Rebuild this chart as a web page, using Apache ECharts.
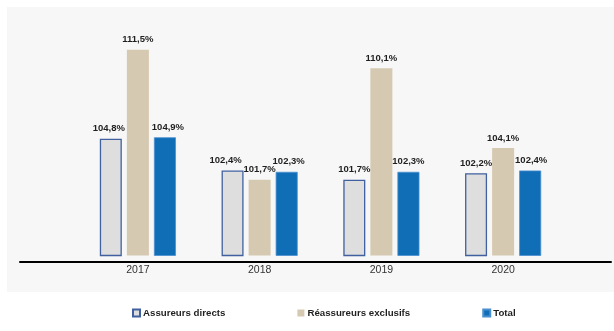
<!DOCTYPE html>
<html>
<head>
<meta charset="utf-8">
<script src="https://cdn.jsdelivr.net/npm/echarts@6/dist/echarts.min.js"></script>
<style>
  html, body { margin: 0; padding: 0; background: #ffffff; }
  #chart { width: 614px; height: 331px; }
</style>
</head>
<body>
<div id="chart"></div>
<script>
// Ratios combinés par année (en %)
const years = ['2017', '2018', '2019', '2020'];
const assureursDirects = [104.8, 102.4, 101.7, 102.2];
const reassureursExclusifs = [111.5, 101.7, 110.1, 104.1];
const total = [104.9, 102.3, 102.3, 102.4];
const seriesNames = ['Assureurs directs', 'Réassureurs exclusifs', 'Total'];

const fmt = v => v.toFixed(1).replace('.', ',') + '%';
const FONT = '"Liberation Sans", Arial, sans-serif';

const labelStyle = {
  show: true,
  position: 'top',
  distance: 5,
  fontFamily: FONT,
  fontSize: 9.5,
  fontWeight: 'bold',
  color: '#1f1f1f',
  formatter: p => fmt(p.value)
};

// small horizontal nudges so neighbouring labels don't collide
function withOffsets(values, offsets) {
  return values.map((v, i) => offsets[i]
    ? { value: v, label: { offset: offsets[i] } }
    : v);
}

const chart = echarts.init(document.getElementById('chart'), null, { renderer: 'canvas' });

chart.setOption({
  animation: false,
  backgroundColor: '#ffffff',
  graphic: [{
    type: 'rect',
    z: -10,
    shape: { x: 7, y: 7, width: 607, height: 285 },
    style: { fill: '#f7f7f7' }
  }],
  legend: {
    left: 127,
    top: 303,
    itemWidth: 7,
    itemHeight: 7,
    itemGap: 72,
    icon: 'rect',
    textStyle: { fontFamily: FONT, fontSize: 9.7, fontWeight: 'bold', color: '#1f1f1f', padding: [0, 0, 0, -2] },
    data: seriesNames
  },
  grid: [
    { left: 77, right: 50, top: 43, bottom: 75.5 },
    { left: 20, right: 3, top: 200, bottom: 69 }
  ],
  xAxis: [
    {
      type: 'category',
      gridIndex: 0,
      data: years,
      axisLine: { show: false },
      axisTick: { show: false },
      axisLabel: { margin: 9, fontFamily: FONT, fontSize: 10.5, color: '#333333' }
    },
    {
      type: 'value',
      gridIndex: 1,
      axisLine: { show: true, lineStyle: { color: '#000000', width: 2 } },
      axisTick: { show: false },
      axisLabel: { show: false },
      splitLine: { show: false }
    }
  ],
  yAxis: [
    { type: 'value', gridIndex: 0, min: 96, max: 112, show: false },
    { type: 'value', gridIndex: 1, show: false }
  ],
  series: [
    {
      name: seriesNames[0],
      type: 'bar',
      barWidth: 22,
      barGap: '23%',
      itemStyle: { color: '#dedede', borderColor: '#4060a0', borderWidth: 1.3 },
      label: labelStyle,
      data: withOffsets(assureursDirects, [[-2, 0], [-7, 0], null, null])
    },
    {
      name: seriesNames[1],
      type: 'bar',
      barWidth: 22,
      barGap: '23%',
      itemStyle: { color: '#d6c9b1' },
      label: labelStyle,
      data: reassureursExclusifs
    },
    {
      name: seriesNames[2],
      type: 'bar',
      barWidth: 22,
      barGap: '23%',
      itemStyle: { color: '#106eb6', borderColor: '#4a8fd0', borderWidth: 0.8 },
      label: labelStyle,
      data: withOffsets(total, [[3, 0], [2, 0], null, [1, 0]])
    }
  ]
});
</script>
</body>
</html>
